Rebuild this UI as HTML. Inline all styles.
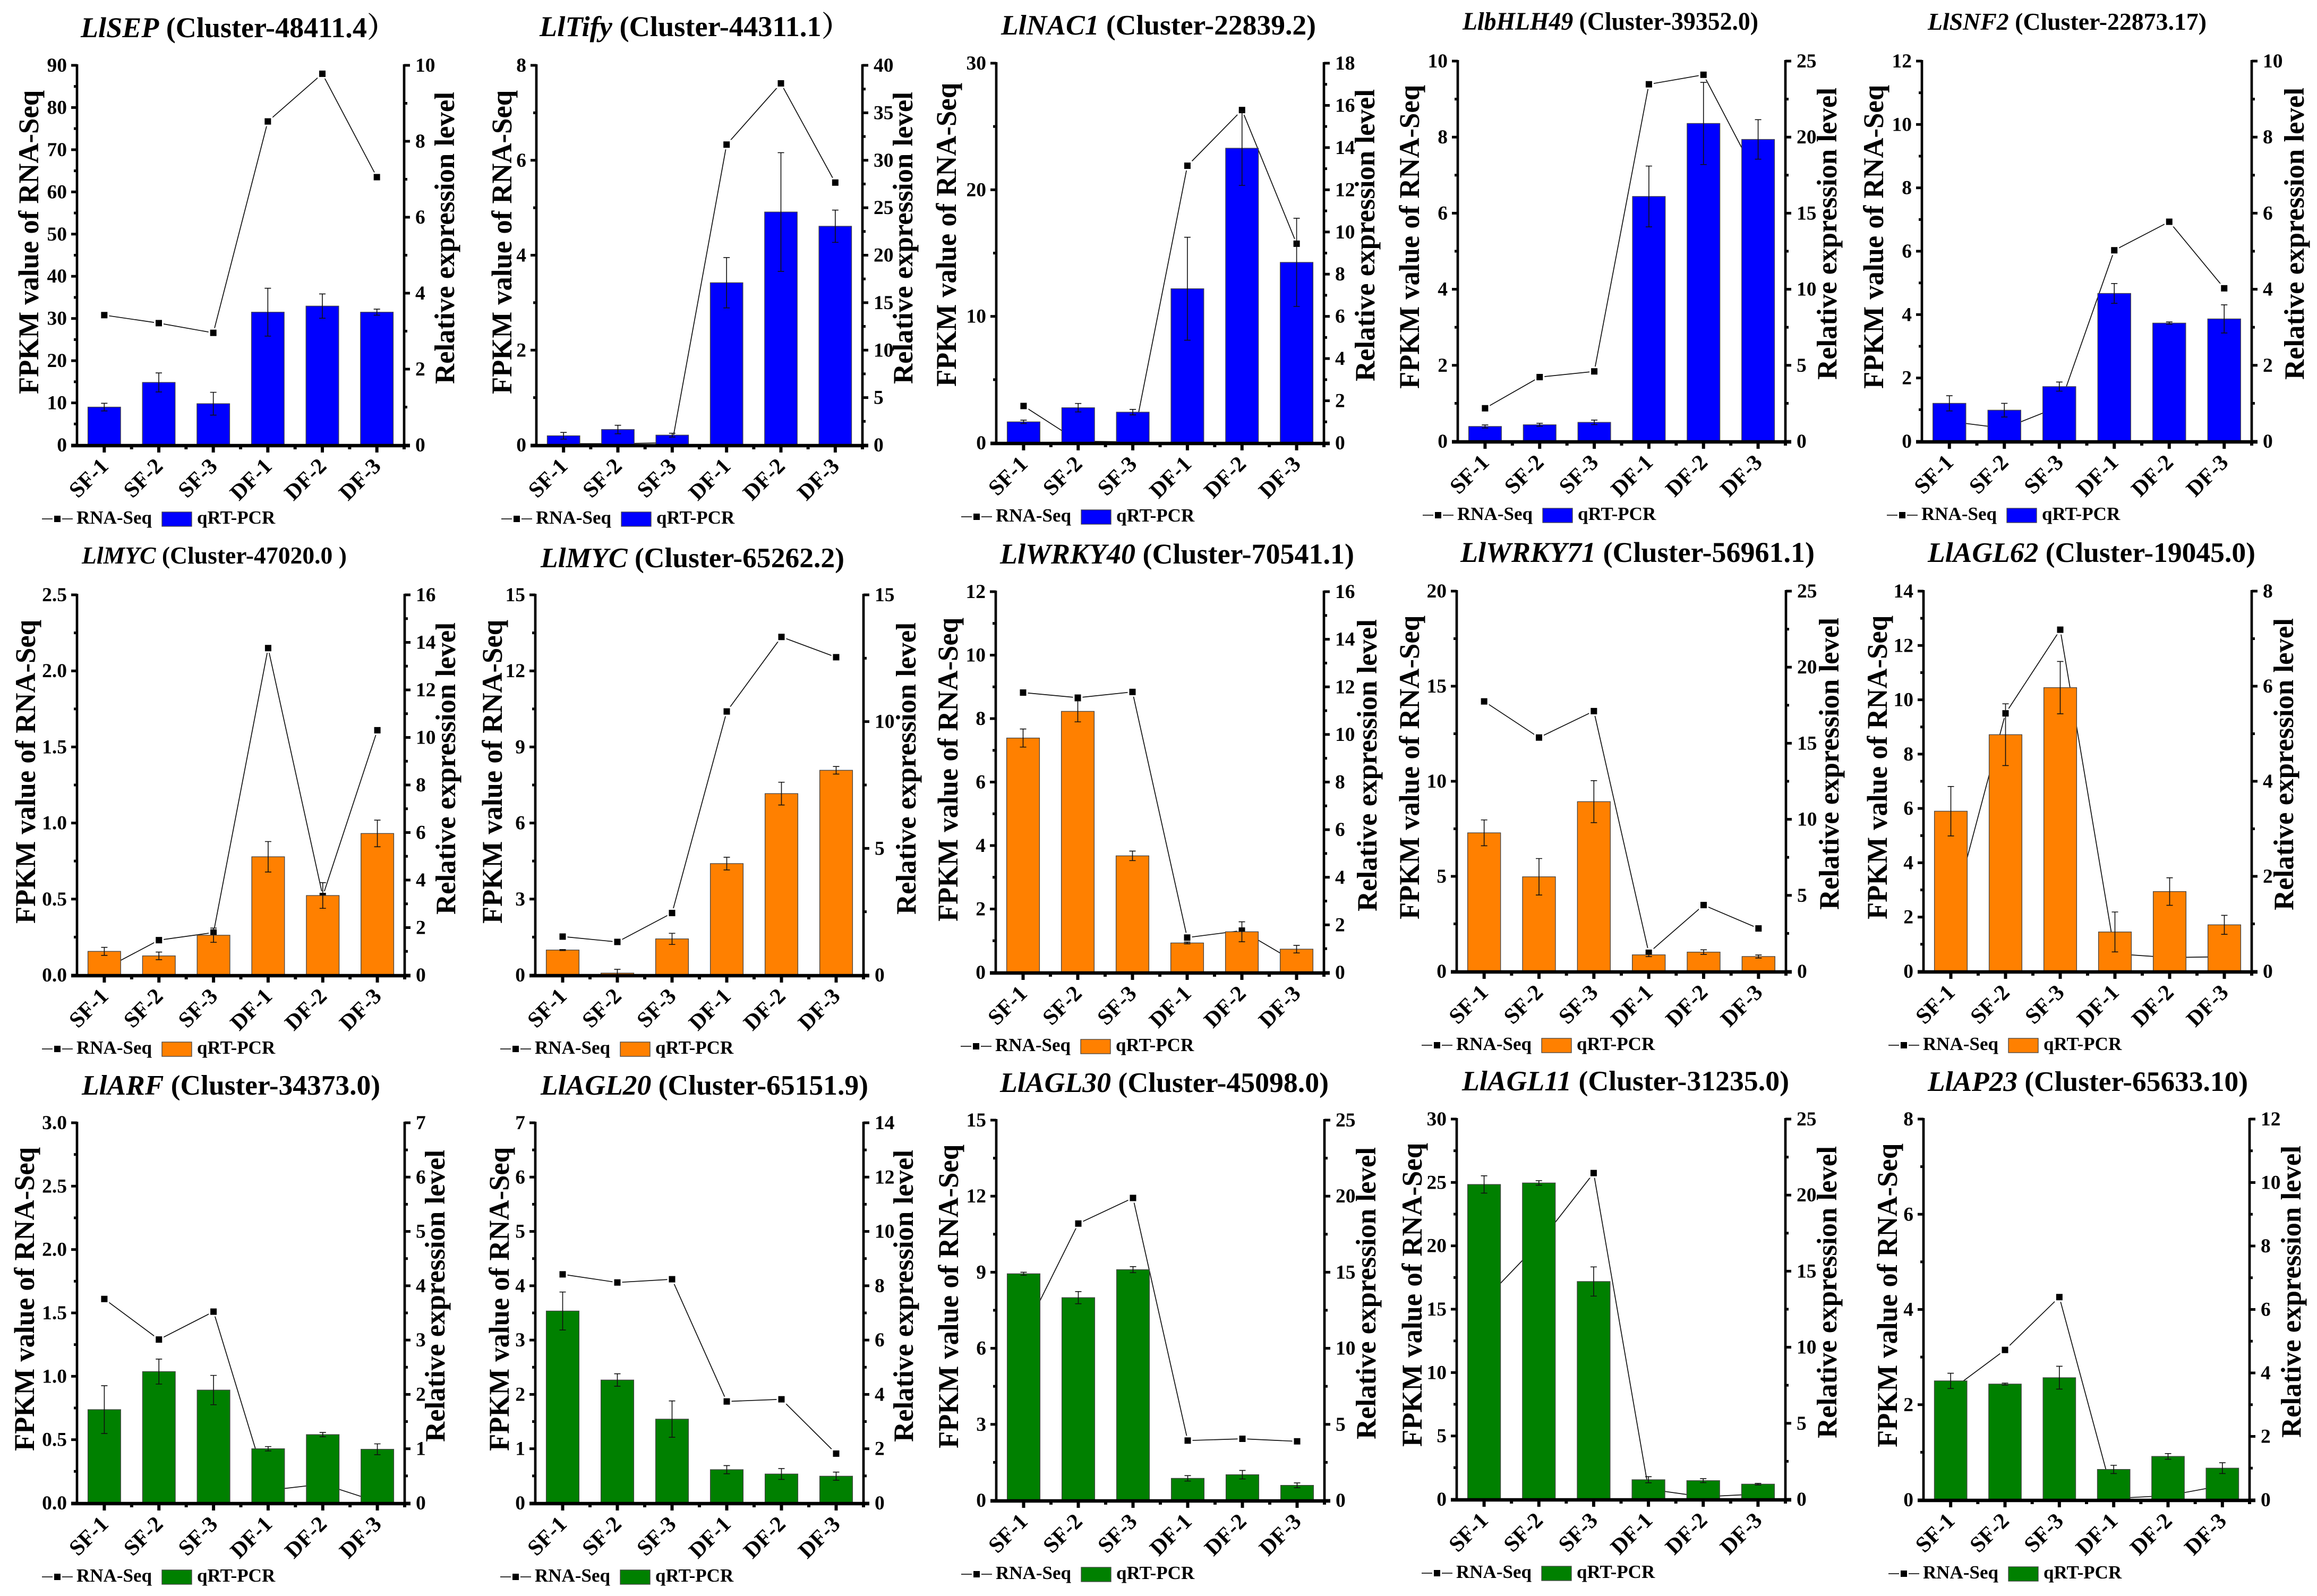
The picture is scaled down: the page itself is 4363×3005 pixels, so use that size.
<!DOCTYPE html>
<html lang="en">
<head>
<meta charset="utf-8">
<title>RNA-Seq and qRT-PCR expression panels</title>
<style>
html,body{margin:0;padding:0;background:#fff;}
svg{display:block;}
text{font-family:"Liberation Serif","Noto Serif CJK SC",serif;font-weight:700;fill:#000;}
</style>
</head>
<body>
<svg id="figure" xmlns="http://www.w3.org/2000/svg" width="4363" height="3005" viewBox="0 0 4363 3005">
<rect x="0" y="0" width="4363" height="3005" fill="#ffffff"></rect>
</svg>
<script>
const categories = ["SF-1","SF-2","SF-3","DF-1","DF-2","DF-3"];
const genes = ["LlSEP","LlTify","LlNAC1","LlbHLH49","LlSNF2","LlMYC","LlMYC","LlWRKY40","LlWRKY71","LlAGL62","LlARF","LlAGL20","LlAGL30","LlAGL11","LlAP23"];
const clusters = ["(Cluster-48411.4）","(Cluster-44311.1）","(Cluster-22839.2)","(Cluster-39352.0)","(Cluster-22873.17)","(Cluster-47020.0 )","(Cluster-65262.2)","(Cluster-70541.1)","(Cluster-56961.1)","(Cluster-19045.0)","(Cluster-34373.0)","(Cluster-65151.9)","(Cluster-45098.0)","(Cluster-31235.0)","(Cluster-65633.10)"];
const leftTickLabels = [
["0","10","20","30","40","50","60","70","80","90"],
["0","2","4","6","8"],
["0","10","20","30"],
["0","2","4","6","8","10"],
["0","2","4","6","8","10","12"],
["0.0","0.5","1.0","1.5","2.0","2.5"],
["0","3","6","9","12","15"],
["0","2","4","6","8","10","12"],
["0","5","10","15","20"],
["0","2","4","6","8","10","12","14"],
["0.0","0.5","1.0","1.5","2.0","2.5","3.0"],
["0","1","2","3","4","5","6","7"],
["0","3","6","9","12","15"],
["0","5","10","15","20","25","30"],
["0","2","4","6","8"]];
const rightTickLabels = [
["0","2","4","6","8","10"],
["0","5","10","15","20","25","30","35","40"],
["0","2","4","6","8","10","12","14","16","18"],
["0","5","10","15","20","25"],
["0","2","4","6","8","10"],
["0","2","4","6","8","10","12","14","16"],
["0","5","10","15"],
["0","2","4","6","8","10","12","14","16"],
["0","5","10","15","20","25"],
["0","2","4","6","8"],
["0","1","2","3","4","5","6","7"],
["0","2","4","6","8","10","12","14"],
["0","5","10","15","20","25"],
["0","5","10","15","20","25"],
["0","2","4","6","8","10","12"]];
const rnaSeq = [
[30.8,28.9,26.6,76.7,88,63.5],
[0.03,0.03,0.05,6.33,7.62,5.53],
[2.92,0.14,0.08,21.9,26.3,15.74],
[0.87,1.69,1.84,9.39,9.64,6.9],
[0.63,0.41,1.1,6.03,6.93,4.83],
[0.04,0.23,0.28,2.15,0.52,1.61],
[1.52,1.31,2.45,10.4,13.34,12.54],
[8.82,8.66,8.84,1.1,1.32,0.31],
[14.2,12.3,13.69,0.98,3.49,2.26],
[1.92,9.5,12.58,0.65,0.51,0.54],
[1.61,1.29,1.51,0.1,0.15,0.01],
[4.21,4.06,4.12,1.87,1.91,0.91],
[6.58,10.92,11.93,2.36,2.43,2.33],
[15.7,20.2,25.74,0.8,0.2,0.42],
[2.3,3.15,4.26,0.03,0.09,0.3]];
const qpcr = [
[1.0,1.65,1.09,3.5,3.66,3.5],
[0.98,1.64,1.05,17.1,24.55,23.05],
[1.0,1.67,1.46,7.31,13.97,8.56],
[0.98,1.09,1.25,16.1,20.9,19.85],
[1.0,0.82,1.44,3.89,3.11,3.22],
[1.0,0.81,1.68,4.98,3.35,5.96],
[0.99,0.08,1.43,4.4,7.16,8.08],
[9.85,10.97,4.9,1.24,1.71,0.98],
[9.11,6.22,11.16,1.09,1.27,0.98],
[3.37,4.98,5.97,0.83,1.68,0.98],
[1.72,2.42,2.08,1.0,1.26,0.99],
[7.07,4.53,3.09,1.23,1.07,0.99],
[14.9,13.33,15.17,1.45,1.69,0.99],
[20.7,20.8,14.32,1.29,1.23,1.0],
[3.75,3.65,3.85,0.96,1.37,1.0]];
const qpcrErr = [
[0.1,0.25,0.3,0.63,0.32,0.08],
[0.35,0.45,0.2,2.65,6.25,1.7],
[0.08,0.2,0.13,2.44,1.76,2.09],
[0.1,0.1,0.15,2.0,2.7,1.3],
[0.2,0.18,0.12,0.26,0.03,0.37],
[0.17,0.16,0.3,0.64,0.54,0.56],
[0.02,0.15,0.22,0.25,0.45,0.15],
[0.38,0.44,0.2,0.04,0.42,0.16],
[0.85,1.2,1.38,0.12,0.15,0.1],
[0.52,0.65,0.55,0.42,0.29,0.2],
[0.44,0.23,0.27,0.04,0.04,0.1],
[0.7,0.23,0.67,0.15,0.2,0.15],
[0.1,0.4,0.2,0.18,0.28,0.16],
[0.57,0.15,0.96,0.2,0.13,0.05],
[0.24,0.03,0.36,0.13,0.09,0.17]];
const seriesNames = ["RNA-Seq","qRT-PCR"];
const leftAxisTitle = "FPKM value of RNA-Seq";
const rightAxisTitle = "Relative expression level";

/* layout only (not data) */
const barColors = ["#0000ff","#0000ff","#0000ff","#0000ff","#0000ff","#ff8000","#ff8000","#ff8000","#ff8000","#ff8000","#008000","#008000","#008000","#008000","#008000"];
const plotBoxes = [
[145,761,123,838],[1010,1624,123,838],[1876,2493,119,834],[2745,3362,115,831],[3619,4240,115,831],
[145,762,1120,1836],[1008,1626,1120,1836],[1875,2493,1114,1831],[2743,3363,1113,1829],[3622,4240,1113,1829],
[145,762,2114,2830],[1008,1626,2114,2830],[1876,2494,2109,2825],[2743,3362,2107,2823],[3622,4236,2107,2824]];
const titleBoxes = [
[152,70,53.6,593],[1016,68,53.7,585],[1885,65,53,593],[2754,56,47.5,557],[3630,56,45.6,525],
[154,1061,45.5,499],[1018,1068,53,572],[1883,1061,53.9,667],[2750,1058,53.9,667],[3630,1058,53.4,617],
[154,2061,53.3,562],[1018,2061,53.4,617],[1883,2056,53.4,619],[2753,2053,53.4,616],[3630,2054,53.2,603]];
const yTitleBoxes = [
[72,456,855,448],[963,456,1718,448],[1800,442,2588,443],[2672,446,3458,440],[3546,446,4338,440],
[66,1453,857,1447],[945,1453,1724,1447],[1803,1449,2592,1441],[2672,1445,3462,1438],[3553,1445,4318,1439],
[64,2446,837,2440],[958,2446,1719,2440],[1804,2441,2590,2435],[2677,2438,3458,2433],[3572,2439,4332,2432]];

const svg = document.getElementById('figure');
const NS = 'http://www.w3.org/2000/svg';
function svgEl(tag, attrs, parent, txt){
  const el = document.createElementNS(NS, tag);
  for (const k in attrs) el.setAttribute(k, attrs[k]);
  if (txt !== undefined) el.textContent = txt;
  parent.appendChild(el);
  return el;
}

genes.forEach(function(gene, p){
  const box = plotBoxes[p];
  const L = box[0], R = box[1], T = box[2], B = box[3];
  const lt = leftTickLabels[p], rt = rightTickLabels[p];
  const leftMax = Number(lt[lt.length-1]), rightMax = Number(rt[rt.length-1]);
  const yLeft = function(v){ return B - v / leftMax * (B - T); };
  const yRight = function(v){ return B - v / rightMax * (B - T); };
  const band = (R - L) / categories.length;
  const xCat = function(i){ return L + band * (i + 0.5); };
  const barW = band * 0.6;
  const color = barColors[p];

  const g = svgEl('g', {}, svg);
  
  

  const tb = titleBoxes[p];
  const title = svgEl('text', {x:tb[0], y:tb[1], 'font-size':tb[2], textLength:tb[3], lengthAdjust:'spacingAndGlyphs'}, g);
  
  
  const ts1 = svgEl('tspan', {'font-style':'italic'}, title, gene);
  
  
  const ts2 = svgEl('tspan', {}, title, ' ' + clusters[p]);
  
  

  /* RNA-Seq line and markers sit beneath the bars */
  const pts = rnaSeq[p].map(function(v, i){ return xCat(i).toFixed(1) + ',' + yLeft(v).toFixed(1); }).join(' ');
  const line = svgEl('polyline', {points:pts, fill:'none', stroke:'#111', 'stroke-width':1.7}, g);
  
  
  rnaSeq[p].forEach(function(v, i){
    const gap = svgEl('rect', {x:xCat(i)-9, y:yLeft(v)-9, width:18, height:18, fill:'#fff'}, g);
    
    
    const m = svgEl('rect', {x:xCat(i)-6, y:yLeft(v)-6, width:12, height:12, fill:'#000'}, g);
    
    
  });

  qpcr[p].forEach(function(v, i){
    const bar = svgEl('rect', {x:xCat(i)-barW/2, y:yRight(v), width:barW, height:B-yRight(v), fill:color, stroke:'#444', 'stroke-width':1.3}, g);
    
    
  });
  qpcr[p].forEach(function(v, i){
    const e = qpcrErr[p][i], x = xCat(i), hi = yRight(v + e), lo = yRight(Math.max(v - e, 0));
    const d = 'M' + x + ' ' + hi + 'V' + lo + 'M' + (x-6) + ' ' + hi + 'H' + (x+6) + 'M' + (x-6) + ' ' + lo + 'H' + (x+6);
    const err = svgEl('path', {d:d, fill:'none', stroke:'#111', 'stroke-width':1.6}, g);
    
    
  });

  /* axes */
  const axL = svgEl('line', {x1:L, x2:L, y1:T-2, y2:B, stroke:'#000', 'stroke-width':4.7}, g);
  
  
  const axR = svgEl('line', {x1:R, x2:R, y1:T-2, y2:B, stroke:'#000', 'stroke-width':4.7}, g);
  
  
  const axB = svgEl('line', {x1:L-11, x2:R+11, y1:B+1, y2:B+1, stroke:'#000', 'stroke-width':6.5}, g);
  
  

  lt.forEach(function(lab, i){
    const v = Number(lab), y = yLeft(v);
    const t = svgEl('line', {x1:L-11, x2:L, y1:y, y2:y, stroke:'#000', 'stroke-width':5}, g);
    
    
    const tx = svgEl('text', {x:L-19, y:y+12, 'font-size':37.5, 'text-anchor':'end'}, g, lab);
    
    
    if (i < lt.length - 1) {
      const ym = yLeft((v + Number(lt[i+1])) / 2);
      const mt = svgEl('line', {x1:L-6, x2:L, y1:ym, y2:ym, stroke:'#000', 'stroke-width':5}, g);
      
      
    }
  });
  rt.forEach(function(lab, i){
    const v = Number(lab), y = yRight(v);
    const t = svgEl('line', {x1:R, x2:R+11, y1:y, y2:y, stroke:'#000', 'stroke-width':5}, g);
    
    
    const tx = svgEl('text', {x:R+21, y:y+12, 'font-size':37.5}, g, lab);
    
    
    if (i < rt.length - 1) {
      const ym = yRight((v + Number(rt[i+1])) / 2);
      const mt = svgEl('line', {x1:R, x2:R+6, y1:ym, y2:ym, stroke:'#000', 'stroke-width':5}, g);
      
      
    }
  });
  categories.forEach(function(cat, i){
    const x = xCat(i);
    const t = svgEl('line', {x1:x, x2:x, y1:B, y2:B+14, stroke:'#000', 'stroke-width':6}, g);
    
    
    const mt = svgEl('line', {x1:x+band/2, x2:x+band/2, y1:B, y2:B+8, stroke:'#000', 'stroke-width':6}, g);
    
    
    const ax = x + 10, ay = B + 42;
    const tx = svgEl('text', {x:ax, y:ay, 'font-size':42, 'text-anchor':'end', transform:'rotate(-45 ' + ax + ' ' + ay + ')'}, g, cat);
    
    
  });

  const yb = yTitleBoxes[p];
  const yl = svgEl('text', {x:yb[0], y:yb[1], 'font-size':54, 'text-anchor':'middle', textLength:572, lengthAdjust:'spacingAndGlyphs', transform:'rotate(-90 ' + yb[0] + ' ' + yb[1] + ')'}, g, leftAxisTitle);
  
  
  const yr = svgEl('text', {x:yb[2], y:yb[3], 'font-size':53, 'text-anchor':'middle', textLength:550, lengthAdjust:'spacingAndGlyphs', transform:'rotate(-90 ' + yb[2] + ' ' + yb[3] + ')'}, g, rightAxisTitle);
  
  

  /* legend */
  const ly = B + 139;
  const leg = svgEl('g', {}, g);
  
  
  const ll = svgEl('line', {x1:L-66, x2:L-8, y1:ly, y2:ly, stroke:'#333', 'stroke-width':2}, leg);
  
  
  const lg = svgEl('rect', {x:L-46, y:ly-9, width:18, height:18, fill:'#fff'}, leg);
  
  
  const lm = svgEl('rect', {x:L-43, y:ly-6, width:12, height:12, fill:'#000'}, leg);
  
  
  const lt1 = svgEl('text', {x:L-1, y:ly+9, 'font-size':35}, leg, seriesNames[0]);
  
  
  const lr = svgEl('rect', {x:L+160, y:ly-13, width:56, height:27, fill:color, stroke:'#444', 'stroke-width':1.3}, leg);
  
  
  const lt2 = svgEl('text', {x:L+226, y:ly+9, 'font-size':35}, leg, seriesNames[1]);
  
  
});
</script>
</body>
</html>
